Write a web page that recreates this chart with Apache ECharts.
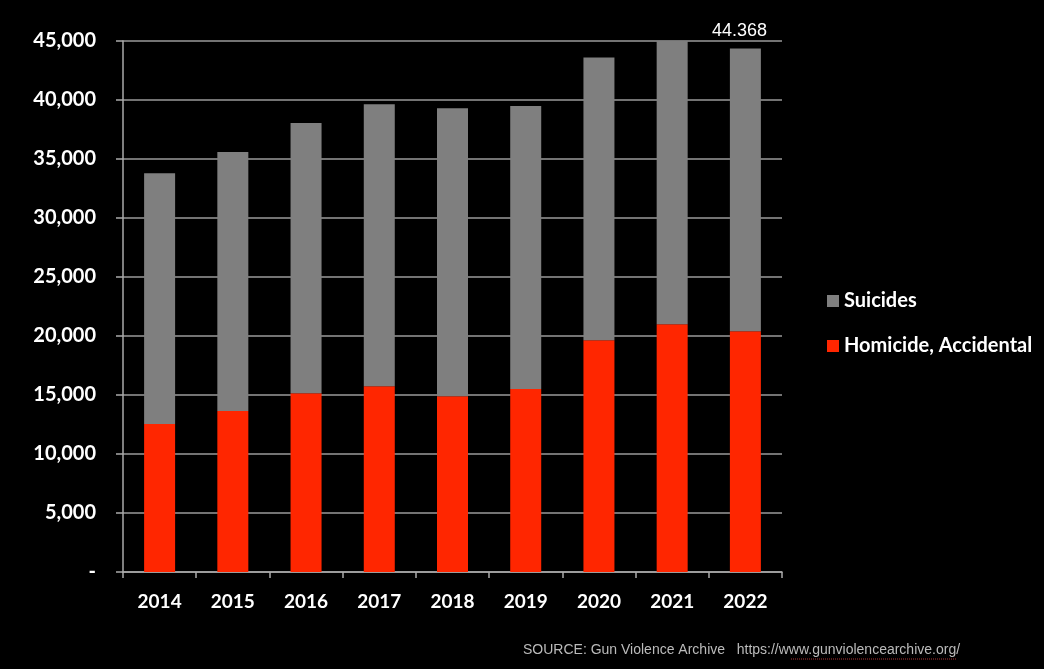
<!DOCTYPE html>
<html><head><meta charset="utf-8">
<script src="https://cdn.jsdelivr.net/npm/echarts@6/dist/echarts.min.js"></script>
<style>html,body{margin:0;padding:0;background:#000;}#c{width:1044px;height:669px;}</style>
</head><body><div id="c"></div>
<script>
const years = ['2014','2015','2016','2017','2018','2019','2020','2021','2022'];
const homicideAccidental = [12550, 13650, 15150, 15750, 14900, 15500, 19650, 21000, 20400];
const suicides = [21250, 21950, 22900, 23900, 24400, 24000, 23950, 24000, 23968];
const topLabel = '44.368';
const sourceText = 'SOURCE: Gun Violence Archive   https://www.gunviolencearchive.org/';

const chart = echarts.init(document.getElementById('c'));
const font = 'Lato, "Open Sans", sans-serif';
chart.setOption({
  backgroundColor: '#000',
  animation: false,
  grid: {left: 123, right: 262, top: 41, bottom: 97},
  legend: {
    orient: 'vertical', left: 822, top: 286, itemWidth: 12, itemHeight: 12, itemGap: 25,
    icon: 'rect',
    data: ['Suicides', 'Homicide, Accidental'],
    textStyle: {color: '#fff', fontFamily: font, fontWeight: 'bold', fontSize: 20}
  },
  xAxis: {
    type: 'category', data: years,
    axisLine: {lineStyle: {color: '#aaa', width: 1.5}},
    axisTick: {show: true, length: 6, lineStyle: {color: '#aaa', width: 1.5}},
    axisLabel: {color: '#fff', fontFamily: font, fontWeight: 'bold', fontSize: 19, margin: 20}
  },
  yAxis: {
    type: 'value', min: 0, max: 45000, interval: 5000,
    axisLine: {show: true, lineStyle: {color: '#aaa', width: 1.5}},
    axisTick: {show: true, length: 7, lineStyle: {color: '#aaa', width: 1.5}},
    splitLine: {lineStyle: {color: '#9a9a9a', width: 1.5}},
    axisLabel: {color: '#fff', fontFamily: font, fontWeight: 'bold', fontSize: 20, margin: 27,
      formatter: v => v === 0 ? '-' : v.toLocaleString('en-US')}
  },
  series: [
    {name: 'Homicide, Accidental', type: 'bar', stack: 't', data: homicideAccidental, barWidth: 31,
     itemStyle: {color: '#ff2600'}},
    {name: 'Suicides', type: 'bar', stack: 't', data: suicides, barWidth: 31,
     itemStyle: {color: '#7f7f7f'}}
  ],
  graphic: [
    {type: 'text', left: 712, top: 22, style: {text: topLabel, fill: '#fff', font: '18px "Liberation Sans", Arial, sans-serif'}},
    {type: 'text', left: 523, top: 643, style: {text: sourceText, fill: '#bbb', font: '14px "Liberation Sans", Arial, sans-serif'}},
    {type: 'line', shape: {x1: 791, y1: 659, x2: 956, y2: 659}, style: {stroke: '#a33', lineWidth: 1, lineDash: [1, 1]}}
  ]
});
</script></body></html>
